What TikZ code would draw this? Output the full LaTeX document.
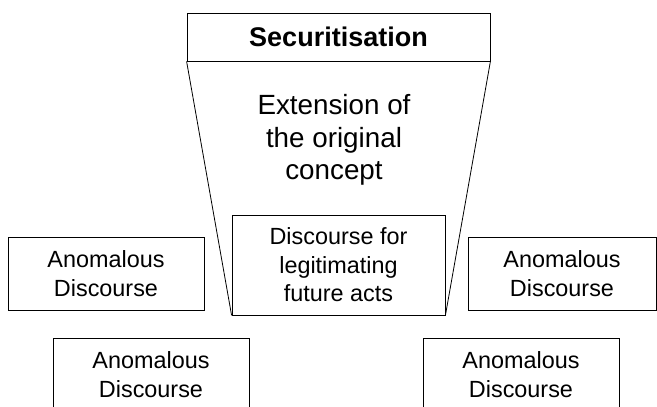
\documentclass[tikz,border=0pt]{standalone}
\usepackage{fontspec}
\setmainfont{Liberation Sans}
\begin{document}
\begin{tikzpicture}[x=1pt,y=-1pt,
  box/.style={draw, line width=0.8pt, inner sep=0pt, align=center,
    font=\fontsize{23.4}{28.5}\selectfont},
  anom/.style={box, minimum width=196pt, minimum height=73pt},
  funnel/.style={line width=0.8pt}
]
\useasboundingbox (0,0) rectangle (657,407);
\clip (0,0) rectangle (657,407);
\node[box, minimum width=303pt, minimum height=48pt,
      font=\fontsize{27}{32}\selectfont\bfseries] (sec) at (338.5,37) {Securitisation};
\node[box, minimum width=213pt, minimum height=100pt] (legit) at (338.5,265)
      {Discourse for\\legitimating\\future acts};
\node[font=\fontsize{27.8}{32.5}\selectfont, align=center, inner sep=0pt] (ext) at (334,140)
      {Extension of\\the original\\concept};
\node[anom] (a1) at (106,273.5) {Anomalous\\Discourse};
\node[box, minimum width=188pt, minimum height=73pt] (a2) at (562,273.5) {Anomalous\\Discourse};
\node[anom] (a3) at (151,374.5) {Anomalous\\Discourse};
\node[anom] (a4) at (521,374.5) {Anomalous\\Discourse};
\draw[funnel] (sec.south west) -- (legit.south west);
\draw[funnel] (sec.south east) -- (legit.south east);
\end{tikzpicture}
\end{document}
